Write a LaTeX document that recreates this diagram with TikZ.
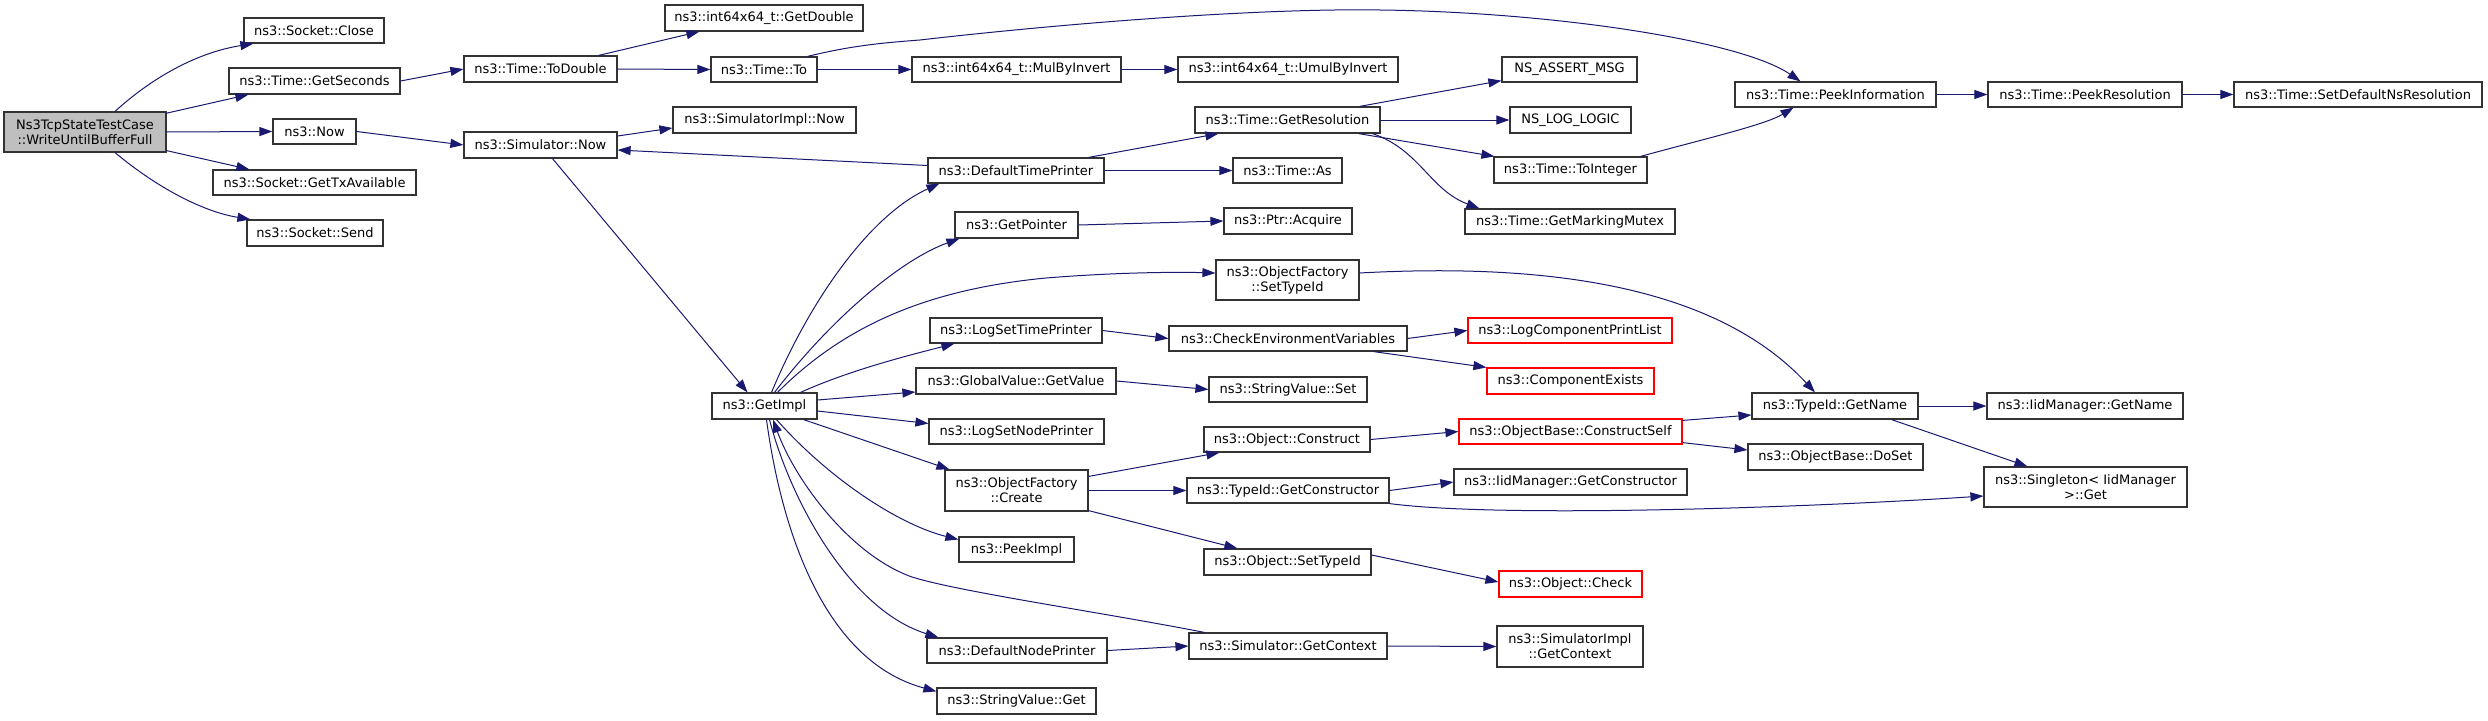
\documentclass[tikz,border=0pt]{standalone}
\usepackage{fontspec}
\setmainfont{DejaVu Sans}
\usetikzlibrary{arrows.meta}
\definecolor{edgeblue}{HTML}{191970}
\definecolor{boxline}{HTML}{333333}
\definecolor{rootfill}{HTML}{BFBFBF}
\newcommand{\mkbox}[7]{\node[#7, minimum width={(#4-#2)*1pt}, minimum height={(#5-#3)*1pt}] (#1) at ({(#2+#4)/2},{(#3+#5)/2}) {#6};}
\tikzset{
  fn/.style={draw=boxline, line width=1.2pt, fill=white, rectangle, inner sep=0pt, align=center,
    font=\fontsize{13}{15}\selectfont},
  rootbox/.style={fn, fill=rootfill},
  redbox/.style={fn, draw=red},
  edge/.style={draw=edgeblue, line width=1pt, -{Triangle[length=13pt,width=9pt]}},
}
\begin{document}
\begin{tikzpicture}[x=1pt,y=-1pt]
\useasboundingbox (0,0) rectangle (2488,720);
\mkbox{root}{4}{112}{166}{152}{Ns3TcpStateTestCase\\::WriteUntilBufferFull}{rootbox}
\mkbox{close}{244}{18}{384}{43}{ns3::Socket::Close}{fn}
\mkbox{getsec}{229}{68}{400}{94}{ns3::Time::GetSeconds}{fn}
\mkbox{now}{273}{119}{356}{144}{ns3::Now}{fn}
\mkbox{gettx}{213}{170}{416}{195}{ns3::Socket::GetTxAvailable}{fn}
\mkbox{send}{247}{220}{383}{246}{ns3::Socket::Send}{fn}
\mkbox{todouble}{464}{56}{617}{82}{ns3::Time::ToDouble}{fn}
\mkbox{simnow}{464}{132}{617}{158}{ns3::Simulator::Now}{fn}
\mkbox{getdouble}{665}{5}{863}{31}{ns3::int64x64\_t::GetDouble}{fn}
\mkbox{timeto}{711}{57}{817}{82}{ns3::Time::To}{fn}
\mkbox{mulbyinv}{912}{57}{1121}{82}{ns3::int64x64\_t::MulByInvert}{fn}
\mkbox{umulbyinv}{1178}{57}{1398}{82}{ns3::int64x64\_t::UmulByInvert}{fn}
\mkbox{simimplnow}{673}{107}{856}{133}{ns3::SimulatorImpl::Now}{fn}
\mkbox{getres}{1195}{107}{1380}{133}{ns3::Time::GetResolution}{fn}
\mkbox{deftp}{928}{158}{1104}{183}{ns3::DefaultTimePrinter}{fn}
\mkbox{timeas}{1233}{158}{1342}{183}{ns3::Time::As}{fn}
\mkbox{getptr}{955}{212}{1078}{238}{ns3::GetPointer}{fn}
\mkbox{acquire}{1224}{208}{1352}{234}{ns3::Ptr::Acquire}{fn}
\mkbox{assertmsg}{1502}{57}{1637}{82}{NS\_ASSERT\_MSG}{fn}
\mkbox{loglogic}{1510}{107}{1631}{133}{NS\_LOG\_LOGIC}{fn}
\mkbox{tointeger}{1494}{157}{1647}{183}{ns3::Time::ToInteger}{fn}
\mkbox{mutex}{1465}{209}{1675}{234}{ns3::Time::GetMarkingMutex}{fn}
\mkbox{peekinfo}{1735}{82}{1936}{107}{ns3::Time::PeekInformation}{fn}
\mkbox{peekres}{1988}{82}{2182}{107}{ns3::Time::PeekResolution}{fn}
\mkbox{setdef}{2234}{82}{2482}{107}{ns3::Time::SetDefaultNsResolution}{fn}
\mkbox{getimpl}{712}{393}{817}{419}{ns3::GetImpl}{fn}
\mkbox{logsettp}{930}{318}{1102}{343}{ns3::LogSetTimePrinter}{fn}
\mkbox{gvgetvalue}{916}{368}{1116}{394}{ns3::GlobalValue::GetValue}{fn}
\mkbox{logsetnp}{929}{419}{1104}{444}{ns3::LogSetNodePrinter}{fn}
\mkbox{ofcreate}{945}{470}{1088}{511}{ns3::ObjectFactory\\::Create}{fn}
\mkbox{ofsettypeid}{1216}{260}{1359}{300}{ns3::ObjectFactory\\::SetTypeId}{fn}
\mkbox{checkenv}{1169}{326}{1407}{351}{ns3::CheckEnvironmentVariables}{fn}
\mkbox{svset}{1209}{377}{1367}{402}{ns3::StringValue::Set}{fn}
\mkbox{lcpl}{1468}{318}{1672}{343}{ns3::LogComponentPrintList}{redbox}
\mkbox{compexists}{1487}{368}{1654}{394}{ns3::ComponentExists}{redbox}
\mkbox{typeidgetname}{1752}{393}{1918}{419}{ns3::TypeId::GetName}{fn}
\mkbox{iidgetname}{1987}{393}{2183}{419}{ns3::IidManager::GetName}{fn}
\mkbox{doset}{1748}{444}{1923}{470}{ns3::ObjectBase::DoSet}{fn}
\mkbox{singleton}{1984}{467}{2187}{507}{ns3::Singleton< IidManager\\>::Get}{fn}
\mkbox{objconstruct}{1204}{427}{1370}{452}{ns3::Object::Construct}{fn}
\mkbox{constructself}{1459}{419}{1682}{444}{ns3::ObjectBase::ConstructSelf}{redbox}
\mkbox{iidgetctor}{1454}{469}{1687}{495}{ns3::IidManager::GetConstructor}{fn}
\mkbox{tidgetctor}{1187}{478}{1389}{503}{ns3::TypeId::GetConstructor}{fn}
\mkbox{objsettypeid}{1204}{549}{1371}{575}{ns3::Object::SetTypeId}{fn}
\mkbox{objcheck}{1499}{571}{1642}{597}{ns3::Object::Check}{redbox}
\mkbox{simgetctx}{1189}{633}{1387}{659}{ns3::Simulator::GetContext}{fn}
\mkbox{simimplgetctx}{1497}{626}{1643}{667}{ns3::SimulatorImpl\\::GetContext}{fn}
\mkbox{peekimpl}{959}{537}{1074}{562}{ns3::PeekImpl}{fn}
\mkbox{defnp}{927}{638}{1107}{663}{ns3::DefaultNodePrinter}{fn}
\mkbox{svget}{937}{688}{1096}{714}{ns3::StringValue::Get}{fn}

% root edges
\draw[edge] ([xshift=30]root.north) .. controls (155,75) and (200,52) .. ([xshift=10]close.south west);
\draw[edge] ([xshift=-1,yshift=-2]root.north east) -- ([xshift=20]getsec.south west);
\draw[edge] (root.east) -- (now.west);
\draw[edge] ([yshift=2]root.south east) -- ([xshift=37]gettx.north west);
\draw[edge] ([xshift=30]root.south) .. controls (160,190) and (205,212) .. ([xshift=4]send.north west);
% time chain
\draw[edge] (getsec.east) -- (todouble.west);
\draw[edge] (now.east) -- (simnow.west);
\draw[edge] ([xshift=-19]todouble.north east) -- ([xshift=35]getdouble.south west);
\draw[edge] (todouble.east) -- (timeto.west);
\draw[edge] (timeto.east) -- (mulbyinv.west);
\draw[edge] (mulbyinv.east) -- (umulbyinv.west);
\draw[edge] ([xshift=-10]timeto.north east) .. controls (850,46) and (880,43) .. (920,40) .. controls (1050,25) and (1250,8) .. (1380,10) .. controls (1550,12) and (1740,40) .. ([xshift=-35]peekinfo.north);
\draw[edge] (peekinfo.east) -- (peekres.west);
\draw[edge] (peekres.east) -- (setdef.west);
\draw[edge] ([yshift=9]simnow.east) -- ([yshift=-8]simimplnow.west);
\draw[edge] ([yshift=5]deftp.west) -- ([yshift=-5]simnow.east);
\draw[edge] ([xshift=12]simnow.south) -- ([xshift=-17]getimpl.north);
\draw[edge] ([xshift=-16]deftp.north east) -- ([xshift=24]getres.south west);
\draw[edge] (deftp.east) -- (timeas.west);
\draw[edge] (getptr.east) -- (acquire.west);
\draw[edge] ([xshift=-21]getres.north east) -- ([yshift=2]assertmsg.south west);
\draw[edge] (getres.east) -- (loglogic.west);
\draw[edge] ([xshift=-22]getres.south east) -- ([xshift=1]tointeger.north west);
\draw[edge] ([xshift=-8]getres.south east) .. controls (1420,150) and (1430,190) .. ([xshift=15]mutex.north west);
\draw[edge] ([xshift=-7]tointeger.north east) .. controls (1700,140) and (1765,125) .. ([xshift=-42]peekinfo.south);
% GetImpl edges
\draw[edge] ([xshift=7]getimpl.north) .. controls (810,300) and (870,215) .. ([xshift=12]deftp.south west);
\draw[edge] ([xshift=10]getimpl.north) .. controls (830,320) and (900,260) .. ([xshift=5]getptr.south west);
\draw[edge] ([xshift=13]getimpl.north) .. controls (840,330) and (920,290) .. (1046,278) .. controls (1120,272) and (1180,272) .. ([yshift=7]ofsettypeid.west);
\draw[edge] ([xshift=36]getimpl.north) .. controls (850,370) and (910,355) .. ([xshift=25]logsettp.south west);
\draw[edge] ([yshift=6]getimpl.east) -- ([yshift=-11]gvgetvalue.west);
\draw[edge] ([yshift=-5]getimpl.east) -- ([yshift=8]logsetnp.west);
\draw[edge] ([xshift=-14]getimpl.south east) -- ([xshift=5]ofcreate.north west);
\draw[edge] ([xshift=12]getimpl.south) .. controls (830,480) and (900,525) .. ([yshift=10]peekimpl.west);
\draw[edge] ([xshift=16]simgetctx.north west) .. controls (1100,612) and (960,592) .. (912,577) .. controls (850,555) and (795,480) .. ([xshift=8.5]getimpl.south);
\draw[edge] ([xshift=5]getimpl.south) .. controls (790,500) and (850,610) .. ([xshift=12]defnp.north west);
\draw[edge] ([xshift=2]getimpl.south) .. controls (780,520) and (820,660) .. ([yshift=-4]svget.north west);
% lower middle
\draw[edge] ([yshift=7]ofsettypeid.east) .. controls (1560,262) and (1720,290) .. ([xshift=-20]typeidgetname.north);
\draw[edge] (logsettp.east) -- (checkenv.west);
\draw[edge] (checkenv.east) -- (lcpl.west);
\draw[edge] ([xshift=-34]checkenv.south east) -- (compexists.north west);
\draw[edge] (gvgetvalue.east) -- (svset.west);
\draw[edge] ([yshift=-7]ofcreate.north east) -- ([xshift=16]objconstruct.south west);
\draw[edge] (ofcreate.east) -- (tidgetctor.west);
\draw[edge] ([yshift=1]ofcreate.south east) -- ([xshift=34]objsettypeid.north west);
\draw[edge] (objconstruct.east) -- (constructself.west);
\draw[edge] ([yshift=-2]constructself.north east) -- ([yshift=-9]typeidgetname.west);
\draw[edge] ([yshift=2]constructself.south east) -- ([yshift=7]doset.west);
\draw[edge] (tidgetctor.east) -- (iidgetctor.west);
\draw[edge] (tidgetctor.south east) .. controls (1500,518) and (1800,508) .. ([yshift=-9]singleton.west);
\draw[edge] ([yshift=7]objsettypeid.east) -- ([yshift=2]objcheck.west);
\draw[edge] (defnp.east) -- (simgetctx.west);
\draw[edge] (simgetctx.east) -- (simimplgetctx.west);
\draw[edge] (typeidgetname.east) -- (iidgetname.west);
\draw[edge] ([xshift=-27]typeidgetname.south east) -- ([xshift=44]singleton.north west);
\end{tikzpicture}
\end{document}
